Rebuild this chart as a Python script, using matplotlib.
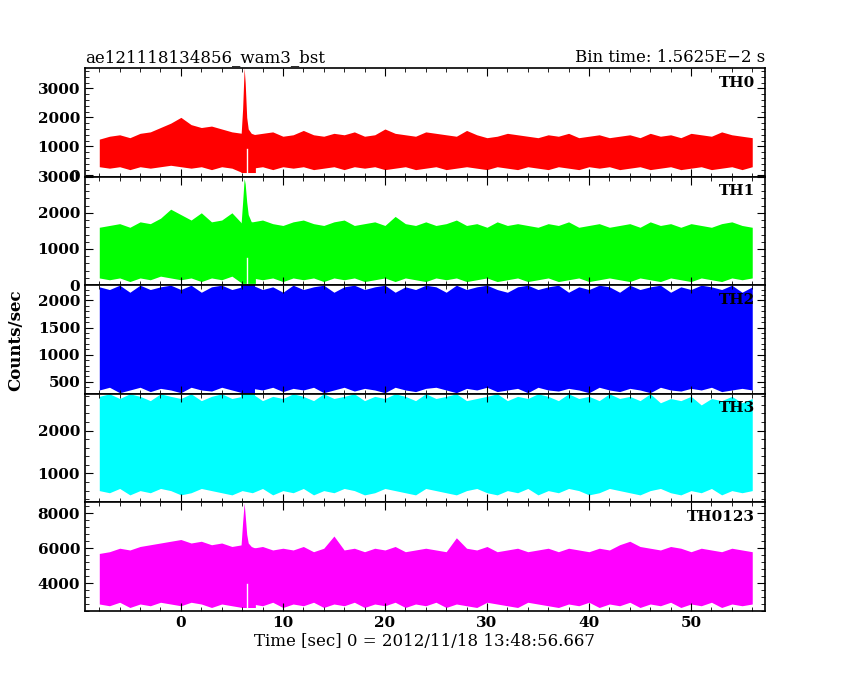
import numpy as np
import matplotlib
matplotlib.use("Agg")
from matplotlib import pyplot as plt
from matplotlib.ticker import AutoMinorLocator

plt.rcParams['font.family'] = ['DejaVu Serif']
plt.rcParams['font.weight'] = 'semibold'

# time grid (sec), one value per second, envelopes
t = list(range(-8, 57))

th0_hi = [1250, 1350, 1400, 1300, 1450, 1500, 1650, 1800, 2000, 1750, 1650, 1700, 1600, 1500, 1450,
          1400, 1450, 1500, 1350, 1400, 1550, 1400, 1350, 1450, 1400, 1500, 1350, 1400, 1600, 1450,
          1400, 1350, 1500, 1450, 1400, 1350, 1550, 1400, 1300, 1350, 1450, 1400, 1350, 1300, 1400,
          1350, 1450, 1300, 1350, 1400, 1300, 1350, 1400, 1300, 1450, 1350, 1400, 1300, 1450, 1400,
          1350, 1500, 1400, 1350, 1300]
th0_lo = [300, 250, 300, 200, 300, 250, 300, 350, 300, 250, 300, 200, 300, 250, 100,
          250, 300, 200, 300, 250, 300, 200, 250, 300, 200, 300, 250, 300, 200, 250,
          300, 200, 250, 300, 200, 250, 300, 250, 200, 300, 250, 200, 300, 250, 200,
          300, 250, 200, 300, 250, 300, 200, 250, 300, 200, 250, 300, 200, 250, 300,
          200, 250, 300, 200, 300]

th1_hi = [1600, 1650, 1700, 1600, 1750, 1700, 1850, 2100, 1950, 1800, 2000, 1750, 1800, 2000, 1700,
          1750, 1800, 1700, 1650, 1750, 1800, 1700, 1650, 1750, 1800, 1650, 1700, 1750, 1650, 1900,
          1700, 1650, 1750, 1650, 1700, 1800, 1650, 1700, 1600, 1750, 1650, 1700, 1650, 1600, 1700,
          1650, 1750, 1600, 1650, 1700, 1600, 1650, 1700, 1600, 1750, 1650, 1700, 1600, 1700, 1650,
          1600, 1700, 1750, 1650, 1600]
th1_lo = [200, 150, 200, 100, 200, 150, 250, 200, 150, 200, 100, 200, 150, 250, 50,
          200, 150, 200, 100, 200, 150, 200, 100, 200, 150, 200, 100, 150, 200, 100,
          200, 150, 100, 200, 150, 200, 100, 150, 200, 100, 150, 200, 100, 150, 200,
          100, 150, 200, 100, 150, 200, 150, 100, 200, 150, 100, 200, 150, 100, 200,
          150, 100, 200, 150, 200]

th2_hi = [2250, 2200, 2280, 2150, 2280, 2200, 2250, 2280, 2200, 2280, 2150, 2250, 2280, 2200, 2250,
          2280, 2200, 2250, 2150, 2280, 2200, 2250, 2280, 2150, 2250, 2280, 2200, 2250, 2280, 2150,
          2250, 2200, 2280, 2250, 2150, 2280, 2200, 2250, 2280, 2200, 2150, 2250, 2280, 2200, 2250,
          2280, 2150, 2250, 2200, 2280, 2250, 2150, 2280, 2200, 2250, 2280, 2150, 2250, 2200, 2280,
          2250, 2200, 2280, 2150, 2250]
th2_lo = [350, 400, 300, 350, 400, 320, 380, 350, 300, 400, 350, 330, 400, 350, 300,
          380, 350, 400, 320, 380, 350, 400, 300, 350, 400, 330, 380, 350, 300, 400,
          350, 320, 380, 400, 350, 300, 380, 350, 400, 320, 350, 380, 300, 400, 350,
          330, 380, 350, 300, 400, 350, 320, 380, 350, 300, 400, 350, 330, 380, 350,
          400, 320, 350, 380, 350]

th3_hi = [2800, 2860, 2750, 2860, 2800, 2700, 2860, 2800, 2750, 2860, 2700, 2800, 2860, 2750, 2800,
          2860, 2700, 2800, 2750, 2860, 2800, 2700, 2860, 2750, 2800, 2860, 2700, 2800, 2750, 2860,
          2800, 2700, 2860, 2750, 2800, 2860, 2700, 2750, 2800, 2860, 2700, 2800, 2750, 2860, 2800,
          2700, 2860, 2750, 2800, 2700, 2860, 2750, 2800, 2700, 2860, 2650, 2750, 2700, 2800, 2600,
          2750, 2700, 2800, 2650, 2750]
th3_lo = [600, 550, 650, 500, 600, 550, 650, 600, 500, 550, 650, 600, 550, 500, 600,
          550, 650, 500, 600, 550, 650, 500, 600, 550, 650, 600, 500, 550, 650, 600,
          550, 500, 650, 600, 550, 500, 600, 650, 550, 500, 600, 550, 650, 500, 600,
          550, 650, 600, 500, 550, 650, 600, 550, 500, 600, 650, 550, 500, 600, 550,
          650, 500, 600, 550, 600]

tha_hi = [5700, 5800, 6000, 5900, 6100, 6200, 6300, 6400, 6500, 6300, 6400, 6200, 6300, 6100, 6200,
          6000, 6100, 5900, 6000, 5900, 6100, 5800, 6000, 6700, 5900, 6000, 5800, 6000, 5900, 6100,
          5800, 5900, 6000, 5900, 5800, 6600, 6000, 5900, 6100, 5800, 5900, 6000, 5800, 5900, 6000,
          5800, 6000, 5900, 5800, 6000, 5900, 6200, 6400, 6100, 6000, 5900, 6100, 6000, 5800, 6000,
          5900, 5800, 6000, 5900, 5800]
tha_lo = [2800, 2700, 2900, 2600, 2800, 2700, 2900, 2800, 2700, 2900, 2800, 2600, 2800, 2700, 2600,
          2800, 2700, 2900, 2600, 2800, 2700, 2900, 2600, 2800, 2700, 2900, 2600, 2800, 2700, 2900,
          2600, 2800, 2700, 2900, 2600, 2800, 2700, 2600, 2900, 2800, 2700, 2600, 2900, 2800, 2700,
          2600, 2800, 2700, 2900, 2600, 2800, 2700, 2900, 2600, 2800, 2700, 2900, 2600, 2800, 2700,
          2900, 2600, 2800, 2700, 2800]

# burst near t = 6.2 s
spike_t = [5.9, 6.05, 6.2, 6.3, 6.45, 6.6, 6.9, 7.3]
spike_th0 = [1400, 2300, 3700, 3200, 2000, 1600, 1450, 1400]
spike_th1 = [1700, 2300, 2950, 2800, 2300, 1950, 1750, 1700]
spike_th2 = [2280, 2280, 2280, 2280, 2280, 2280, 2280, 2280]
spike_th3 = [2860, 2860, 2860, 2860, 2860, 2860, 2860, 2860]
spike_tha = [6200, 7500, 8600, 7900, 6800, 6300, 6100, 6000]

panels = [
    ("TH0", "red", th0_hi, th0_lo, spike_th0, (-40, 3700), [0, 1000, 2000, 3000]),
    ("TH1", "#00ff00", th1_hi, th1_lo, spike_th1, (0, 3000), [0, 1000, 2000, 3000]),
    ("TH2", "blue", th2_hi, th2_lo, spike_th2, (280, 2280), [500, 1000, 1500, 2000]),
    ("TH3", "cyan", th3_hi, th3_lo, spike_th3, (325, 2860), [1000, 2000]),
    ("TH0123", "magenta", tha_hi, tha_lo, spike_tha, (2400, 8630), [4000, 6000, 8000]),
]

fig, axes = plt.subplots(5, 1, figsize=(8.5, 6.8), dpi=100, sharex=True)
fig.subplots_adjust(left=0.1, right=0.9, bottom=0.1015, top=0.9, hspace=0)

for ax, (name, col, hi, lo, sp, ylim, yt) in zip(axes, panels):
    ax.fill_between(t, lo, hi, color=col, lw=0)
    ax.fill_between(spike_t, [lo[14]] * len(spike_t), sp, color=col, lw=0)
    # thin gap right after the burst
    if name in ("TH0", "TH1", "TH0123"):
        ax.axvline(6.45, ymin=0, ymax=0.25, color='white', lw=1)
    ax.set_xlim(-9.4, 57.25)
    ax.set_ylim(*ylim)
    ax.set_yticks(yt)
    ax.yaxis.set_minor_locator(AutoMinorLocator(5))
    ax.xaxis.set_minor_locator(AutoMinorLocator(5))
    ax.tick_params(which='both', direction='in', top=True, right=True, labelsize=11)
    ax.tick_params(which='major', length=6)
    ax.tick_params(which='minor', length=3)
    for s in ax.spines.values():
        s.set_linewidth(1.2)
    ax.text(0.985, 0.93, name, transform=ax.transAxes, ha='right', va='top', fontsize=11)

axes[-1].set_xticks([0, 10, 20, 30, 40, 50])
axes[-1].set_xlabel("Time [sec] 0 = 2012/11/18 13:48:56.667", fontsize=12, labelpad=2)
fig.text(0.018, 0.5, "Counts/sec", rotation=90, va='center', ha='center', fontsize=12)
axes[0].set_title("ae121118134856_wam3_bst", loc='left', fontsize=12, pad=4)
axes[0].set_title("Bin time: 1.5625E\u22122 s", loc='right', fontsize=12, pad=4)

fig.savefig("out.png", dpi=100)
